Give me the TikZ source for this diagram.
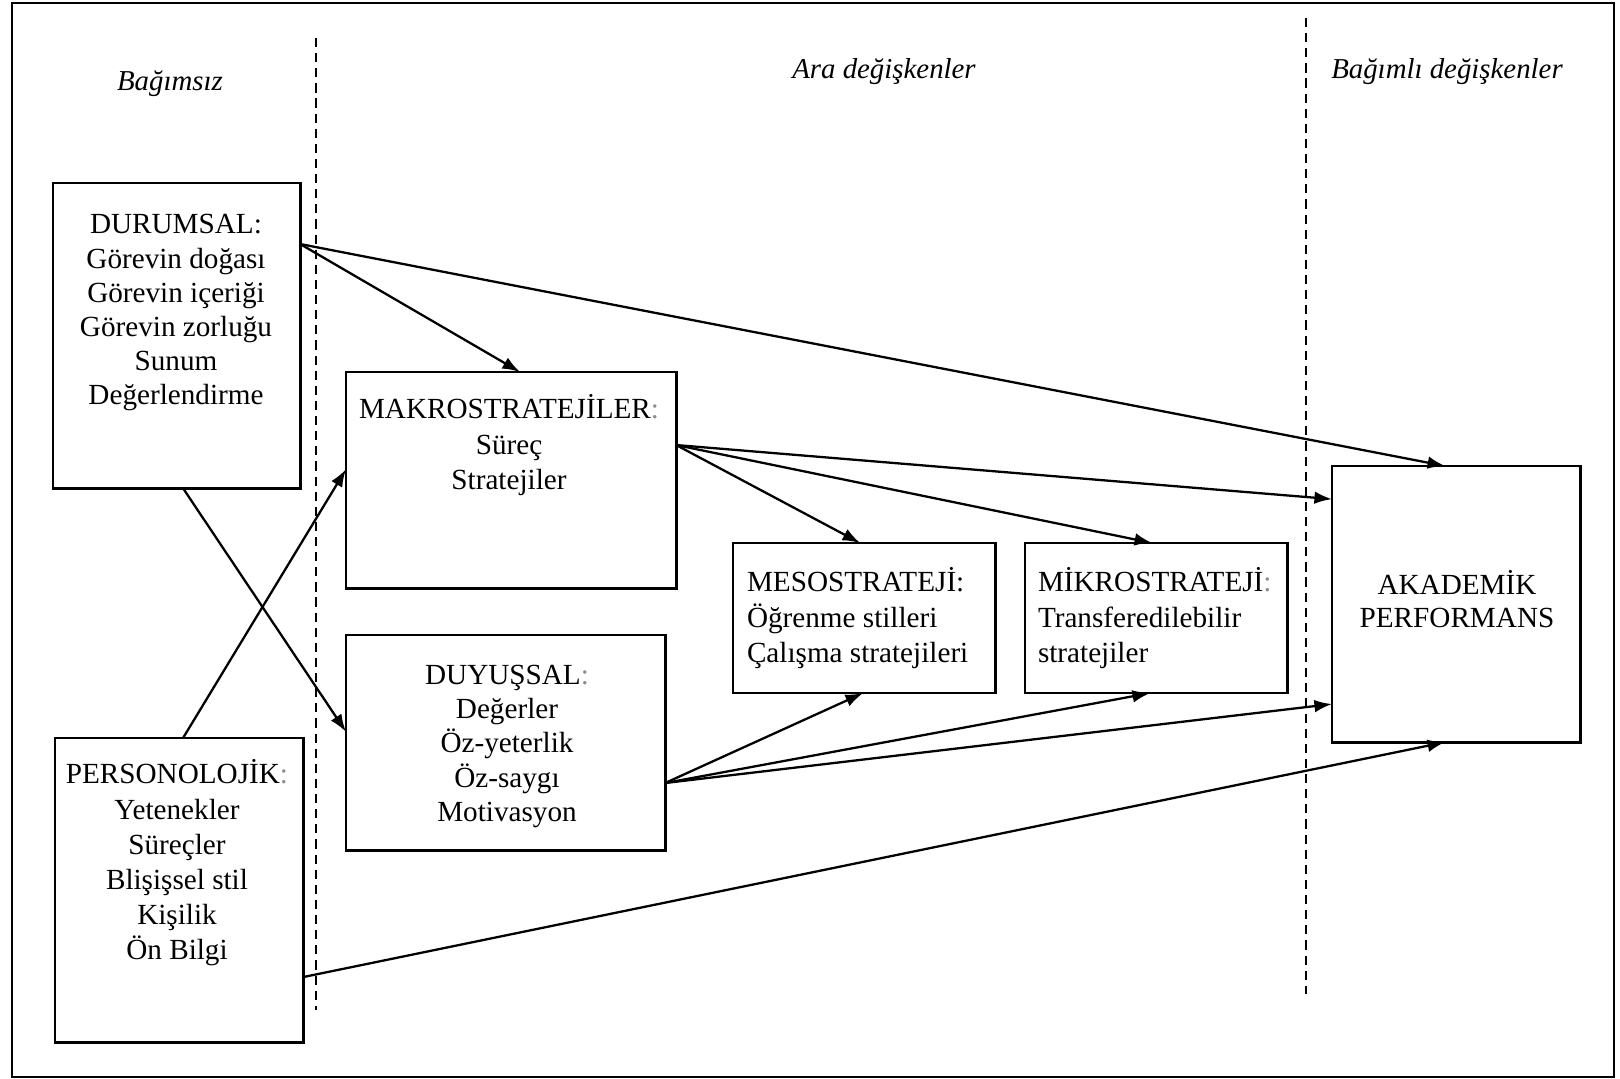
\documentclass[tikz,border=0pt]{standalone}
\usepackage{fontspec}
\setmainfont{Liberation Serif}
\usetikzlibrary{calc,arrows.meta}
\begin{document}
\begin{tikzpicture}[x=0.01cm,y=-0.01cm,
  box/.style={draw,line width=0.8pt,inner sep=0pt,outer sep=0pt,anchor=north west},
  txt/.style={inner sep=0pt,outer sep=0pt,anchor=base,font=\fontsize{8.3}{10}\selectfont},
  txtl/.style={txt,anchor=base west},
  head/.style={inner sep=0pt,outer sep=0pt,anchor=base,font=\fontsize{8.2}{10}\selectfont\itshape},
  link/.style={line width=0.65pt,-{Latex[length=5pt,width=3.6pt]}},
  divider/.style={line width=0.45pt,dash pattern=on 2.6pt off 1.7pt}]
\newcommand{\fc}{\textcolor{black!45}{:}}
\useasboundingbox (0,0) rectangle (1620,1079);
\draw[line width=0.8pt] (12,3) rectangle (1614,1077);

% column dividers
\coordinate (d1top) at (316,38);
\coordinate (d1bot) at (316,1010);
\coordinate (d2top) at (1306,18);
\coordinate (d2bot) at (1306,994);
\draw[divider] (d1top) -- (d1bot);
\draw[divider] (d2top) -- (d2bot);

% column headings
\node[head] (hind) at (170,91) {Bağımsız};
\node[head] (hmid) at (884,79) {Ara değişkenler};
\node[head] (hdep) at (1447,79) {Bağımlı değişkenler};

% boxes
\node[box,minimum width=2.47cm,minimum height=3.05cm] (dur) at (53,183) {};
\node[box,minimum width=3.30cm,minimum height=2.16cm] (makro) at (346,372) {};
\node[box,minimum width=3.19cm,minimum height=2.15cm] (duy) at (346,635) {};
\node[box,minimum width=2.48cm,minimum height=3.04cm] (pers) at (55,738) {};
\node[box,minimum width=2.62cm,minimum height=1.50cm] (meso) at (733,543) {};
\node[box,minimum width=2.62cm,minimum height=1.50cm] (mikro) at (1025,543) {};
\node[box,minimum width=2.48cm,minimum height=2.76cm] (akad) at (1332,466) {};

% box texts
\node[txt,font=\fontsize{8.3}{9.7}\selectfont] (durtxt) at (176,234)
  {\begin{tabular}[t]{@{}c@{}}DURUMSAL:\\Görevin doğası\\Görevin içeriği\\Görevin zorluğu\\Sunum\\Değerlendirme\end{tabular}};
\node[txt] (makrotxt) at (509,419)
  {\begin{tabular}[t]{@{}c@{}}MAKROSTRATEJİLER\fc\\Süreç\\Stratejiler\end{tabular}};
\node[txt,font=\fontsize{8.3}{9.8}\selectfont] (duytxt) at (507,684)
  {\begin{tabular}[t]{@{}c@{}}DUYUŞSAL\fc\\Değerler\\Öz-yeterlik\\Öz-saygı\\Motivasyon\end{tabular}};
\node[txt] (perstxt) at (177,784)
  {\begin{tabular}[t]{@{}c@{}}PERSONOLOJİK\fc\\Yetenekler\\Süreçler\\Blişişsel stil\\Kişilik\\Ön Bilgi\end{tabular}};
\node[txtl] (mesotxt) at (747,592)
  {\begin{tabular}[t]{@{}l@{}}MESOSTRATEJİ:\\Öğrenme stilleri\\Çalışma stratejileri\end{tabular}};
\node[txtl] (mikrotxt) at (1038,592)
  {\begin{tabular}[t]{@{}l@{}}MİKROSTRATEJİ\fc\\Transferedilebilir\\stratejiler\end{tabular}};
\node[txt,font=\fontsize{8.3}{9.6}\selectfont] (akadtxt) at (1457,594)
  {\begin{tabular}[t]{@{}c@{}}AKADEMİK\\PERFORMANS\end{tabular}};

% connectors
\draw[link] ($(dur.north east)!0.2!(dur.south east)$) -- ($(makro.north west)!0.527!(makro.north east)$);
\draw[link] ($(dur.north east)!0.2!(dur.south east)$) -- ($(akad.north west)!0.456!(akad.north east)$);
\draw[link] ($(dur.south west)!0.526!(dur.south east)$) -- ($(duy.north west)!0.45!(duy.south west)$);
\draw[link] ($(pers.north west)!0.516!(pers.north east)$) -- ($(makro.north west)!0.45!(makro.south west)$);
\draw[link] ($(makro.north east)!0.338!(makro.south east)$) -- ($(meso.north west)!0.485!(meso.north east)$);
\draw[link] ($(makro.north east)!0.338!(makro.south east)$) -- ($(mikro.north west)!0.485!(mikro.north east)$);
\draw[link] ($(makro.north east)!0.338!(makro.south east)$) -- ($(akad.north west)!0.12!(akad.south west)$);
\draw[link] ($(duy.north east)!0.688!(duy.south east)$) -- ($(meso.south west)!0.496!(meso.south east)$);
\draw[link] ($(duy.north east)!0.688!(duy.south east)$) -- ($(mikro.south west)!0.477!(mikro.south east)$);
\draw[link] ($(duy.north east)!0.688!(duy.south east)$) -- ($(akad.north west)!0.862!(akad.south west)$);
\draw[link] ($(pers.north east)!0.786!(pers.south east)$) -- ($(akad.south west)!0.456!(akad.south east)$);
\end{tikzpicture}
\end{document}
